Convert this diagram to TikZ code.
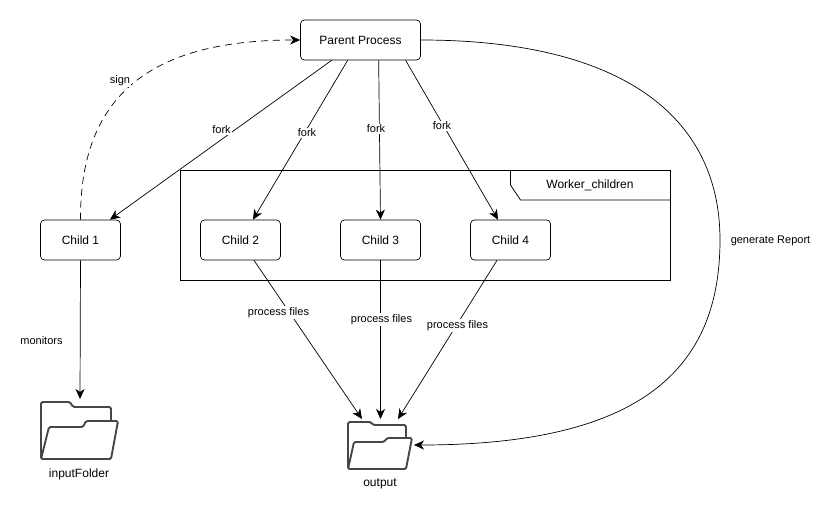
\documentclass[tikz,border=0pt]{standalone}
\usepackage{fontspec}
\setmainfont{Liberation Sans}
\usetikzlibrary{arrows.meta,calc}
\tikzset{
  x=1pt,y=-1pt,
  proc/.style={draw,fill=white,rounded corners=4pt,minimum width=80pt,minimum height=40pt,inner sep=0pt,line width=.7pt,font=\fontsize{12}{14}\selectfont},
  conn/.style={line width=.7pt,-{Stealth[length=10pt,width=9pt,inset=3pt]}},
  lbl/.style={fill=white,inner sep=1pt,font=\fontsize{11}{13}\selectfont},
  folderline/.style={draw=black!72,line width=1.9pt,line join=round,fill=white,rounded corners=1.5pt},
  flabel/.style={inner sep=0pt,font=\fontsize{12}{14}\selectfont}
}
\begin{document}
\begin{tikzpicture}
\useasboundingbox (0,0) rectangle (831,512);
\fill[white] (0,0) rectangle (831,512);
% frame
\node[draw,line width=.7pt,minimum width=490pt,minimum height=110pt,inner sep=0pt] (frame) at (425,225) {};
\draw[line width=.7pt] (510.5,170) -- (510.5,185) -- (520.5,200) -- (670,200);
\node[flabel] (ftitle) at (590,185) {Worker\_children};
% nodes
\node[proc,minimum width=120pt] (p) at (360.5,40) {Parent Process};
\node[proc] (c1) at (80.5,240) {Child 1};
\node[proc] (c2) at (240.5,240) {Child 2};
\node[proc] (c3) at (380.5,240) {Child 3};
\node[proc] (c4) at (510.5,240) {Child 4};
% folders
\draw[folderline] (41,459) -- (41,402) -- (70,402) -- (73,407) -- (111,407) -- (111,459) -- cycle;
\draw[folderline] (41,459) -- (49,427) -- (83,427) -- (86,421) -- (118,421) -- (111,459) -- cycle;
\node[flabel] (inf) at (79,474) {inputFolder};
\coordinate (inftop) at (80,399);
\draw[folderline] (348,469) -- (348,422) -- (371,422) -- (373,425) -- (406,425) -- (406,469) -- cycle;
\draw[folderline] (348,469) -- (354,442) -- (384,442) -- (387,438) -- (412,438) -- (406,469) -- cycle;
\node[flabel] (outf) at (380,484) {output};
\coordinate (o1) at (362,419);
\coordinate (o2) at (380.5,419);
\coordinate (o3) at (398,419);
\coordinate (o4) at (414,445);
% connectors
\draw[conn] ([xshift=31.5pt]p.south west) -- ([xshift=29.5pt]c1.north);
\draw[conn] ([xshift=47.5pt]p.south west) -- ([xshift=12.5pt]c2.north);
\draw[conn] ([xshift=78.5pt]p.south west) -- (c3.north);
\draw[conn] ([xshift=105.5pt]p.south west) -- ([xshift=-12.5pt]c4.north);
\draw[conn,dash pattern=on 7pt off 5pt] (c1.north) .. controls (80,100) and (145,40) .. (p.west);
\draw[conn] (p.east) .. controls (620,40) and (720,115) .. (720,240) .. controls (720,370) and (640,445) .. (o4);
\draw[conn] (c1.south) -- (inftop);
\draw[conn] ([xshift=13.5pt]c2.south) -- (o1);
\draw[conn] (c3.south) -- (o2);
\draw[conn] ([xshift=-13.5pt]c4.south) -- (o3);
% labels
\node[lbl] (l1) at (221.5,130) {fork};
\node[lbl] (l2) at (307,133) {fork};
\node[lbl] (l3) at (376,129) {fork};
\node[lbl] (l4) at (442,126) {fork};
\node[lbl] (sg) at (120,81) {sign};
\node[lbl] (gr) at (770.5,241) {generate Report};
\node[lbl] (mon) at (41.5,341) {monitors};
\node[lbl] (pf1) at (278.5,312.5) {process files};
\node[lbl] (pf2) at (381.5,319.5) {process files};
\node[lbl] (pf3) at (457.5,325.5) {process files};
\end{tikzpicture}
\end{document}
